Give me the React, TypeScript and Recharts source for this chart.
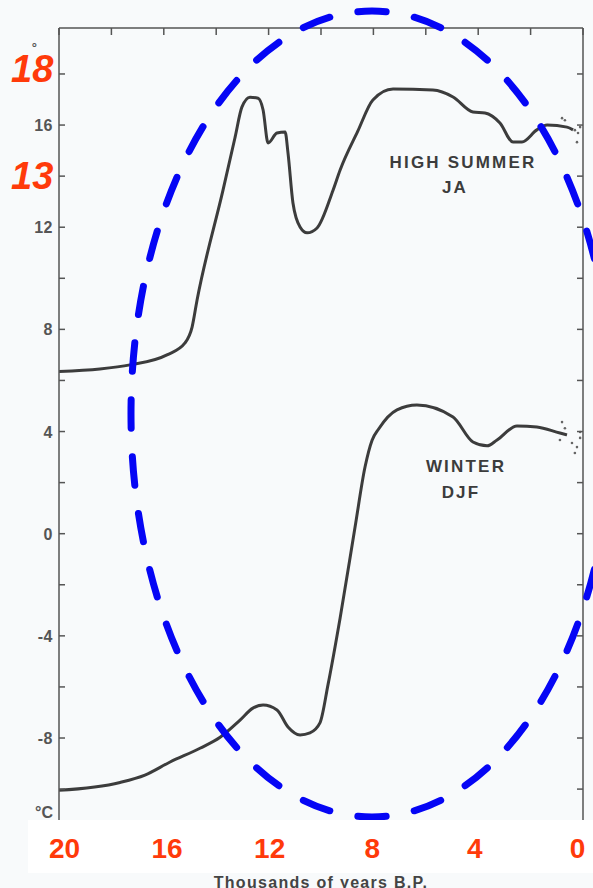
import { ComposedChart, Line, Scatter, XAxis, YAxis } from 'recharts';

// thousands of years B.P. / °C
const summerAge = [20.0, 18.44, 17.29, 15.88, 15.19, 14.92, 14.73, 13.74, 13.28, 13.02, 12.71, 12.4, 12.21, 12.02, 11.68, 11.37, 11.26, 11.07, 10.8, 10.53, 10.15, 9.54, 9.27, 8.6, 8.02, 7.25, 5.73, 4.96, 4.2, 3.74, 3.17, 2.67, 2.33, 1.76, 1.37, 0.61, 0.38];
const summerTemp = [6.35, 6.45, 6.61, 7.0, 7.47, 8.09, 9.15, 13.45, 15.52, 16.7, 17.09, 17.05, 16.59, 15.3, 15.69, 15.73, 14.91, 12.95, 12.01, 11.78, 11.97, 13.45, 14.24, 15.75, 16.98, 17.41, 17.37, 17.1, 16.51, 16.47, 16.08, 15.34, 15.34, 15.81, 16.0, 15.92, 15.81];

const winterAge = [20.0, 17.67, 16.72, 15.76, 14.62, 13.85, 13.09, 12.6, 12.21, 11.68, 11.26, 10.8, 10.42, 10.04, 9.73, 9.27, 8.7, 8.32, 8.05, 7.8, 7.1, 6.34, 4.96, 4.2, 3.66, 3.28, 2.52, 1.76, 0.88, 0.61];
const winterTemp = [-10.05, -9.74, -9.45, -8.94, -8.4, -7.97, -7.3, -6.83, -6.71, -6.9, -7.57, -7.88, -7.8, -7.41, -5.9, -3.3, 0.26, 2.61, 3.66, 4.1, 4.85, 5.04, 4.57, 3.59, 3.44, 3.67, 4.22, 4.18, 3.94, 3.87];

// scattered dots at the recent end of each curve
const summerDotAge = [0.8, 0.69, 0.31, 0.19, 0.23, 0.11];
const summerDotTemp = [16.27, 16.19, 15.8, 15.69, 15.33, 15.92];
const winterDotAge = [0.8, 0.69, 0.88, 0.42, 0.23, 0.11, 0.31, 0.11];
const winterDotTemp = [4.37, 4.13, 3.67, 3.55, 3.39, 3.75, 3.16, 3.98];

const bottomTicks = [20, 16, 12, 8, 4, 0];
const topTicks = [20, 18, 16, 14, 12, 10, 8, 6, 4, 2, 0];
const tempTicks = [18, 16, 14, 12, 10, 8, 6, 4, 2, 0, -2, -4, -6, -8, -10];
const labelledTemps = [16, 12, 8, 4, 0, -4, -8];

const toRows = (ages: number[], temps: number[]) => ages.map((age, i) => ({ age, temp: temps[i] }));

const summerRows = toRows(summerAge, summerTemp);
const winterRows = toRows(winterAge, winterTemp);
const dotRows = toRows([...summerDotAge, ...winterDotAge], [...summerDotTemp, ...winterDotTemp]);

const AXIS = '#555';
const FONT = '"Liberation Sans", Arial, sans-serif';
const RED = '#ff3a0a';

const LeftTick = ({ x, y, payload }: any) => (
  <g>
    <line x1={x} x2={x + 6} y1={y} y2={y} stroke={AXIS} strokeWidth={1.5} />
    {labelledTemps.includes(payload.value) && (
      <text x={x - 6} y={y} dy={6} textAnchor="end" fill={AXIS} fontSize={16} fontWeight={700} fontFamily={FONT} letterSpacing={0.5}>
        {payload.value}
      </text>
    )}
  </g>
);

const RightTick = ({ x, y }: any) => <line x1={x} x2={x - 6} y1={y} y2={y} stroke={AXIS} strokeWidth={1.5} />;

const TopTick = ({ x, y }: any) => <line x1={x} x2={x} y1={y} y2={y + 7} stroke={AXIS} strokeWidth={1.5} />;

// the pasted-on red labels sit a little tighter than the scan's own ticks
const BottomTick = ({ x, y, payload }: any) => (
  <text x={x + (payload.value - 10) * 0.55} y={y + 38} textAnchor="middle" fill={RED} fontSize={28} fontWeight={700} fontFamily={FONT}>
    {payload.value}
  </text>
);

const tempDomain = [-11.21, 19.8];

export default function App() {
  return (
    <div style={{ position: 'absolute', left: 0, top: 0, width: 593, height: 888, background: '#f8fafb', overflow: 'hidden' }}>
      <div style={{ position: 'absolute', left: 28, top: 820, width: 565, height: 53, background: '#fff' }} />
      <div style={{ position: 'absolute', left: 0, top: 0 }}>
        <ComposedChart width={593} height={888} margin={{ top: 0, right: 0, bottom: 0, left: 0 }}>
          <XAxis
            xAxisId="top"
            orientation="top"
            dataKey="age"
            type="number"
            domain={[0, 20]}
            reversed
            allowDataOverflow
            ticks={topTicks}
            interval={0}
            height={28}
            axisLine={{ stroke: AXIS, strokeWidth: 1.5 }}
            tickLine={false}
            tickSize={0}
            tickMargin={0}
            tick={<TopTick />}
          />
          <XAxis
            xAxisId="bottom"
            orientation="bottom"
            dataKey="age"
            type="number"
            domain={[0, 20]}
            reversed
            allowDataOverflow
            ticks={bottomTicks}
            interval={0}
            height={68}
            axisLine={false}
            tickLine={false}
            tickSize={0}
            tickMargin={0}
            tick={<BottomTick />}
            label={{
              value: 'Thousands of years B.P.',
              position: 'insideBottom',
              offset: 0,
              fill: '#444',
              fontSize: 16,
              fontWeight: 700,
              fontFamily: FONT,
              letterSpacing: 1.3,
            }}
          />
          <YAxis
            yAxisId="left"
            dataKey="temp"
            type="number"
            domain={tempDomain}
            allowDataOverflow
            ticks={tempTicks}
            interval={0}
            width={59}
            axisLine={{ stroke: AXIS, strokeWidth: 1.5 }}
            tickLine={false}
            tickSize={0}
            tickMargin={0}
            tick={<LeftTick />}
          />
          <YAxis
            yAxisId="right"
            orientation="right"
            dataKey="temp"
            type="number"
            domain={tempDomain}
            allowDataOverflow
            ticks={tempTicks}
            interval={0}
            width={10}
            axisLine={{ stroke: AXIS, strokeWidth: 1.5 }}
            tickLine={false}
            tickSize={0}
            tickMargin={0}
            tick={<RightTick />}
          />
          <Line
            xAxisId="top"
            yAxisId="right"
            data={summerRows}
            dataKey="temp"
            stroke="none"
            dot={false}
            activeDot={false}
            legendType="none"
            isAnimationActive={false}
          />
          <Line
            xAxisId="bottom"
            yAxisId="left"
            data={summerRows}
            dataKey="temp"
            type="monotone"
            stroke="#3c3c3c"
            strokeWidth={3}
            dot={false}
            activeDot={false}
            isAnimationActive={false}
          />
          <Line
            xAxisId="bottom"
            yAxisId="left"
            data={winterRows}
            dataKey="temp"
            type="monotone"
            stroke="#3c3c3c"
            strokeWidth={3}
            dot={false}
            activeDot={false}
            isAnimationActive={false}
          />
          <Scatter
            xAxisId="bottom"
            yAxisId="left"
            data={dotRows}
            dataKey="temp"
            isAnimationActive={false}
            shape={(p: any) => <circle cx={p.cx} cy={p.cy} r={1.3} fill="#666" />}
          />
        </ComposedChart>
      </div>
      <svg width={593} height={820} style={{ position: 'absolute', left: 0, top: 0, pointerEvents: 'none' }}>
        <g fontFamily={FONT} fontWeight={700} fill="#3c3c3c" fontSize={17} letterSpacing={2.2} textAnchor="middle">
          <text x={463} y={168}>HIGH SUMMER</text>
          <text x={455} y={193}>JA</text>
          <text x={466} y={472}>WINTER</text>
          <text x={461} y={498}>DJF</text>
        </g>
        <g fontFamily={FONT} fontWeight={700} fill={AXIS} fontSize={16}>
          <text x={53} y={818} textAnchor="end">°C</text>
          <text x={37} y={52} fontSize={13} textAnchor="end">°</text>
        </g>
        <g fontFamily={FONT} fontWeight={700} fontStyle="italic" fill={RED} fontSize={38}>
          <text x={11} y={82}>18</text>
          <text x={11} y={189}>13</text>
        </g>
        <ellipse
          cx={372}
          cy={414}
          rx={241}
          ry={403}
          fill="none"
          stroke="#0505f5"
          strokeWidth={7}
          strokeLinecap="round"
          pathLength={360}
          strokeDasharray="5 5"
          strokeDashoffset={2.5}
        />
      </svg>
    </div>
  );
}
